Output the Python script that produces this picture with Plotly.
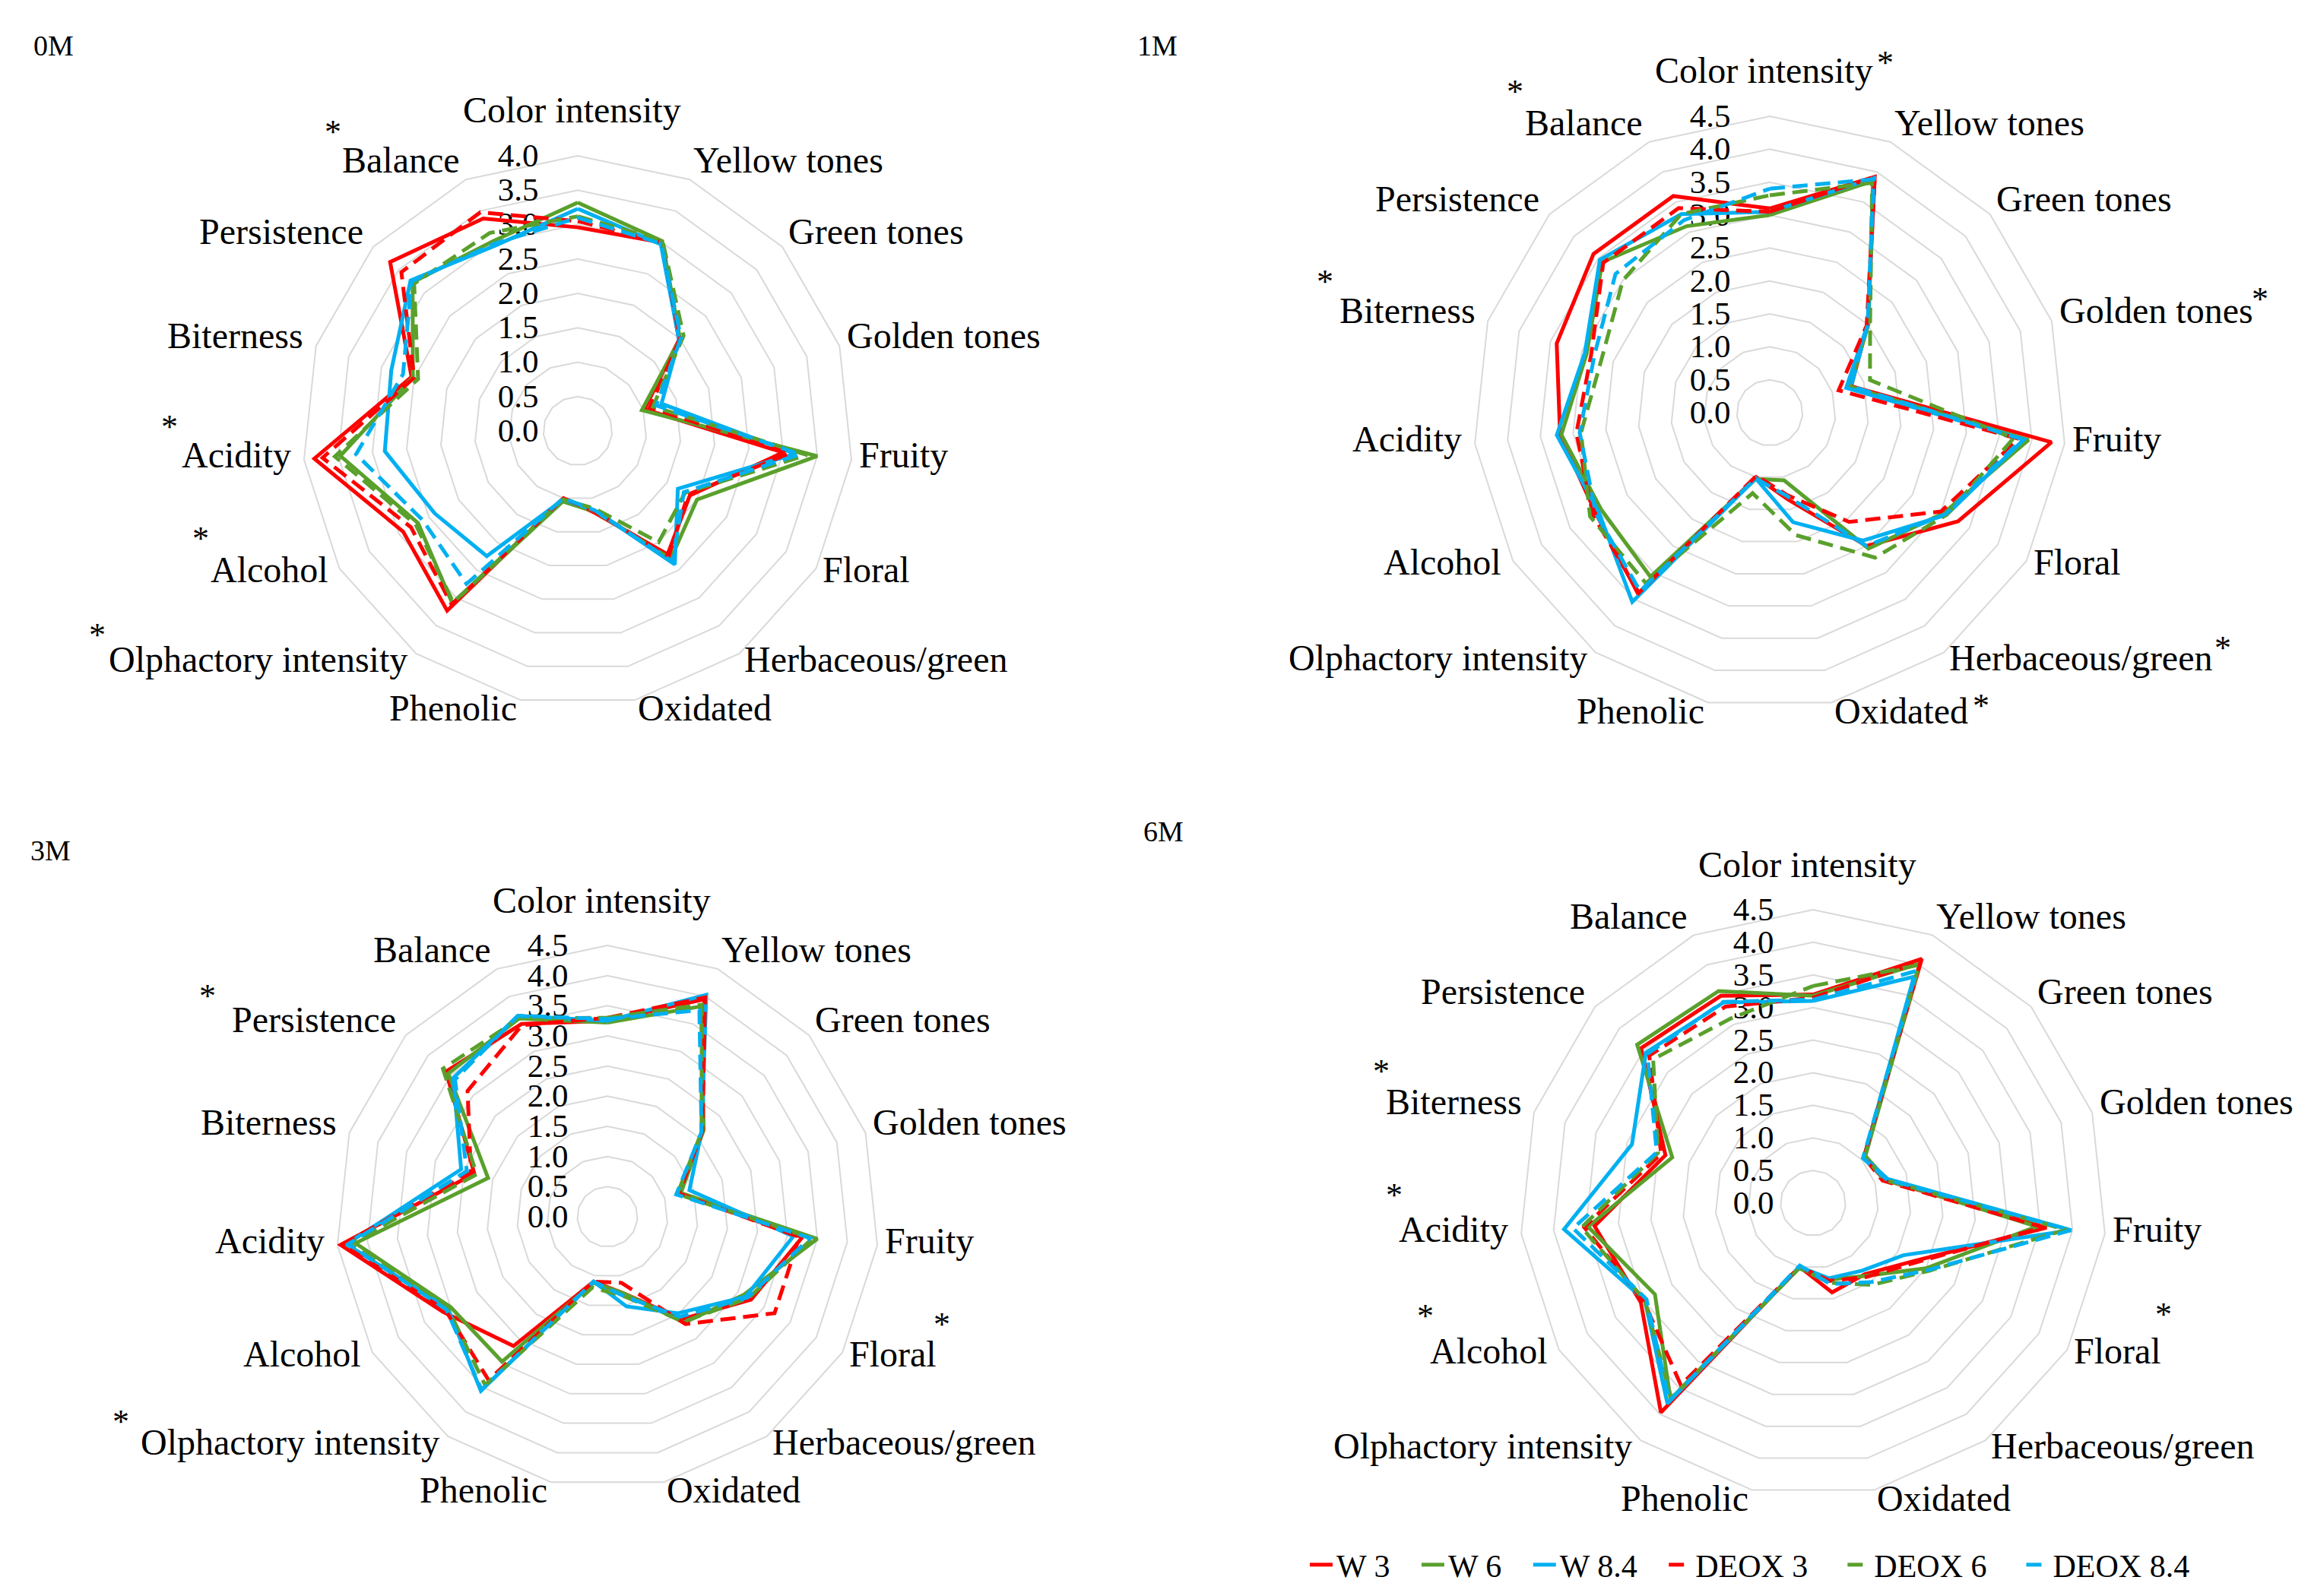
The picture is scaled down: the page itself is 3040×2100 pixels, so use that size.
import math
import plotly.graph_objects as go

categories = ["Color intensity", "Yellow tones", "Green tones", "Golden tones", "Fruity",
              "Floral", "Herbaceous/green", "Oxidated", "Phenolic", "Olphactory intensity",
              "Alcohol", "Acidity", "Biterness", "Persistence", "Balance"]
series_names = ["W 3", "W 6", "W 8.4", "DEOX 3", "DEOX 6", "DEOX 8.4"]
radial_ticks_0m = [0.0, 0.5, 1.0, 1.5, 2.0, 2.5, 3.0, 3.5, 4.0]
radial_ticks = [0.0, 0.5, 1.0, 1.5, 2.0, 2.5, 3.0, 3.5, 4.0, 4.5]

# ---- 0M ----
m0_w3   = [2.96, 3.00, 1.98, 1.02, 3.00, 1.88, 2.22, 1.22, 1.00, 3.23, 2.93, 3.85, 2.54, 3.67, 3.38]
m0_w6   = [3.32, 3.02, 2.00, 0.98, 3.50, 2.00, 2.30, 1.20, 1.05, 3.10, 2.68, 3.47, 2.52, 3.23, 3.02]
m0_w84  = [3.23, 2.97, 1.98, 1.28, 3.18, 1.68, 2.40, 1.18, 1.02, 2.25, 2.40, 2.82, 2.85, 3.27, 2.95]
m0_d3   = [3.05, 3.00, 2.00, 1.10, 3.10, 1.85, 2.25, 1.20, 1.00, 3.12, 2.80, 3.73, 2.50, 3.45, 3.48]
m0_d6   = [3.12, 3.03, 2.07, 1.15, 3.35, 1.80, 2.00, 1.15, 1.02, 3.08, 2.72, 3.55, 2.44, 3.20, 3.15]
m0_d84  = [3.10, 2.98, 2.02, 1.20, 3.25, 1.78, 2.35, 1.18, 1.00, 2.75, 2.60, 3.24, 2.67, 3.25, 2.98]

# ---- 1M ----
m1_w3   = [3.10, 3.92, 2.00, 1.30, 4.30, 3.30, 2.50, 1.35, 1.00, 3.40, 3.05, 3.20, 3.40, 3.60, 3.60]
m1_w6   = [3.00, 3.85, 2.02, 1.28, 3.95, 3.05, 2.55, 1.05, 1.03, 3.08, 2.95, 3.18, 2.92, 3.42, 3.10]
m1_w84  = [3.05, 3.90, 2.00, 1.22, 3.88, 3.10, 2.40, 1.70, 1.02, 3.55, 3.00, 3.25, 2.95, 3.47, 3.30]
m1_d3   = [3.05, 3.92, 1.98, 1.10, 3.80, 3.00, 2.05, 1.28, 0.98, 3.38, 3.10, 2.95, 2.85, 3.40, 3.40]
m1_d6   = [3.30, 3.82, 2.05, 1.60, 3.72, 3.10, 2.72, 1.90, 1.25, 3.20, 3.15, 2.88, 2.68, 3.00, 3.30]
m1_d84  = [3.40, 3.88, 2.00, 1.30, 3.85, 3.08, 2.50, 1.30, 1.02, 3.35, 3.05, 2.90, 2.80, 3.15, 3.20]

# ---- 3M ----
m3_w3   = [3.25, 3.95, 2.12, 1.25, 3.25, 2.75, 2.10, 1.30, 1.10, 2.65, 3.15, 4.45, 2.32, 3.60, 3.50]
m3_w6   = [3.22, 3.82, 2.15, 1.28, 3.50, 2.60, 2.17, 1.30, 1.12, 2.97, 3.00, 4.20, 2.08, 3.55, 3.60]
m3_w84  = [3.25, 4.03, 2.10, 1.43, 3.10, 2.65, 1.98, 1.52, 1.10, 3.57, 3.05, 4.35, 2.55, 3.44, 3.65]
m3_d3   = [3.30, 3.98, 2.12, 1.25, 3.20, 3.20, 2.20, 1.12, 1.10, 3.35, 3.10, 4.42, 2.38, 3.12, 3.48]
m3_d6   = [3.30, 3.85, 2.10, 1.22, 3.42, 2.70, 2.15, 1.35, 1.20, 3.45, 3.05, 4.30, 2.28, 3.67, 3.60]
m3_d84  = [3.28, 3.75, 2.10, 1.20, 3.38, 2.68, 2.05, 1.35, 1.10, 3.55, 3.08, 4.32, 2.45, 3.40, 3.65]

# ---- 6M ----
m6_w3   = [3.20, 4.10, 1.05, 1.15, 3.60, 1.78, 1.35, 1.40, 1.00, 3.97, 3.05, 3.37, 2.38, 3.55, 3.48]
m6_w6   = [3.18, 4.02, 1.08, 1.18, 3.45, 2.00, 1.38, 1.20, 1.02, 3.72, 2.80, 3.47, 2.27, 3.63, 3.56]
m6_w84  = [3.10, 3.80, 1.05, 1.20, 3.98, 1.60, 1.28, 1.18, 1.00, 3.80, 2.98, 3.84, 2.92, 3.45, 3.37]
m6_d3   = [3.15, 4.05, 1.05, 1.12, 3.55, 1.82, 1.40, 1.22, 1.00, 3.45, 3.00, 3.53, 2.45, 3.38, 3.30]
m6_d6   = [3.33, 4.00, 1.07, 1.15, 3.90, 2.07, 1.55, 1.25, 1.02, 3.70, 2.98, 3.57, 2.50, 3.30, 3.10]
m6_d84  = [3.12, 3.90, 1.03, 1.18, 3.98, 2.05, 1.50, 1.27, 0.98, 3.75, 2.95, 3.70, 2.52, 3.42, 3.38]

panels = [
    ("polar",  "0M", [m0_w3, m0_w6, m0_w84, m0_d3, m0_d6, m0_d84], radial_ticks_0m),
    ("polar2", "1M", [m1_w3, m1_w6, m1_w84, m1_d3, m1_d6, m1_d84], radial_ticks),
    ("polar3", "3M", [m3_w3, m3_w6, m3_w84, m3_d3, m3_d6, m3_d84], radial_ticks),
    ("polar4", "6M", [m6_w3, m6_w6, m6_w84, m6_d3, m6_d6, m6_d84], radial_ticks),
]

W, H = 3040, 2100
FONT = "Liberation Serif"
RED, GREEN, BLUE = "#FF0000", "#5AA02C", "#00B0F0"
styles = [(RED, "solid"), (GREEN, "solid"), (BLUE, "solid"),
          (RED, "20px,10px"), (GREEN, "20px,10px"), (BLUE, "20px,10px")]
NB = "\u00a0"
legend_pad = [NB * 3, NB * 3, NB * 3, NB * 4, NB * 4, ""]  # spacing after legend entries

# polar centres / radii in pixels (layout only)
geom = {"polar": (752, 559, 362), "polar2": (2320, 535, 390),
        "polar3": (791, 1593, 357), "polar4": (2377, 1575, 386)}

fig = go.Figure()
for pi, (sub, title, series, ticks) in enumerate(panels):
    for si, vals in enumerate(series):
        color, dash = styles[si]
        fig.add_trace(go.Scatterpolar(
            r=vals + [vals[0]], theta=categories + [categories[0]],
            mode="lines", name=series_names[si] + legend_pad[si],
            legendgroup=series_names[si],
            showlegend=(pi == 3), subplot=sub,
            line=dict(color=color, width=5, dash=dash), hoverinfo="skip"))

layout = dict(width=W, height=H, paper_bgcolor="white", plot_bgcolor="white",
              margin=dict(l=0, r=0, t=0, b=0), font=dict(family=FONT, color="black"))
for sub, title, series, ticks in panels:
    cx, cy, R = geom[sub]
    layout[sub] = dict(
        domain=dict(x=[(cx - R) / W, (cx + R) / W], y=[1 - (cy + R) / H, 1 - (cy - R) / H]),
        bgcolor="white", gridshape="linear", hole=0,
        radialaxis=dict(range=[0, ticks[-1]], tickvals=ticks,
                        ticktext=[f"{t:.1f}" for t in ticks], angle=90, tickangle=90,
                        side="counterclockwise", showline=False,
                        gridcolor="#D9D9D9", gridwidth=2,
                        ticks="outside", ticklen=36, tickcolor="rgba(0,0,0,0)",
                        tickfont=dict(size=43, family=FONT, color="black"),
                        layer="below traces"),
        angularaxis=dict(direction="clockwise", rotation=90, showgrid=False,
                         showline=True, linecolor="#D9D9D9", linewidth=2, ticks="",
                         showticklabels=False, layer="below traces"),
    )
fig.update_layout(**layout)

annotations = []
# category labels placed beside each outer vertex (Excel-like placement)
for sub, title, series, ticks in panels:
    cx, cy, R = geom[sub]
    n = len(categories)
    for k, cat in enumerate(categories):
        th = 2 * math.pi * k / n
        s, c = math.sin(th), math.cos(th)
        vx, vy = cx + R * s, cy - R * c
        if k == 0:
            x, y, xa = vx - 8, vy - 60, "center"
        elif s > 0:
            x, y, xa = vx + 8 * s, vy - 19 * c - 8, "left"
        else:
            x, y, xa = vx + 15 * s, vy - 19 * c - 8, "right"
        annotations.append(dict(text=cat, x=x / W, y=1 - y / H, xref="paper", yref="paper",
                                xanchor=xa, yanchor="middle", showarrow=False,
                                font=dict(size=48, family=FONT, color="black")))

for txt, x, y in [("0M", 62, 52), ("1M", 1514, 52), ("3M", 58, 1111), ("6M", 1522, 1086)]:
    annotations.append(dict(text=txt, x=x / W, y=1 - y / H, xref="paper", yref="paper",
                            xanchor="center", yanchor="middle", showarrow=False,
                            font=dict(size=38, family=FONT, color="black")))
stars = [(430, 166), (215, 553), (256, 701), (120, 827),
         (2472, 74), (1985, 113), (1735, 362), (2965, 385), (2916, 844), (2598, 920),
         (265, 1302), (1231, 1734), (151, 1862),
         (1809, 1401), (1826, 1564), (1867, 1723), (2838, 1721)]
for x, y in stars:
    annotations.append(dict(text="*", x=x / W, y=1 - y / H, xref="paper", yref="paper",
                            xanchor="center", yanchor="middle", showarrow=False,
                            font=dict(size=44, family=FONT, color="black")))
fig.update_layout(
    annotations=annotations,
    legend=dict(orientation="h", x=1710 / W, y=1 - 2051 / H, xanchor="left", yanchor="middle",
                font=dict(size=42, family=FONT, color="black"), itemwidth=30,
                bgcolor="rgba(0,0,0,0)", tracegroupgap=0),
)
fig.write_html("out.html")
